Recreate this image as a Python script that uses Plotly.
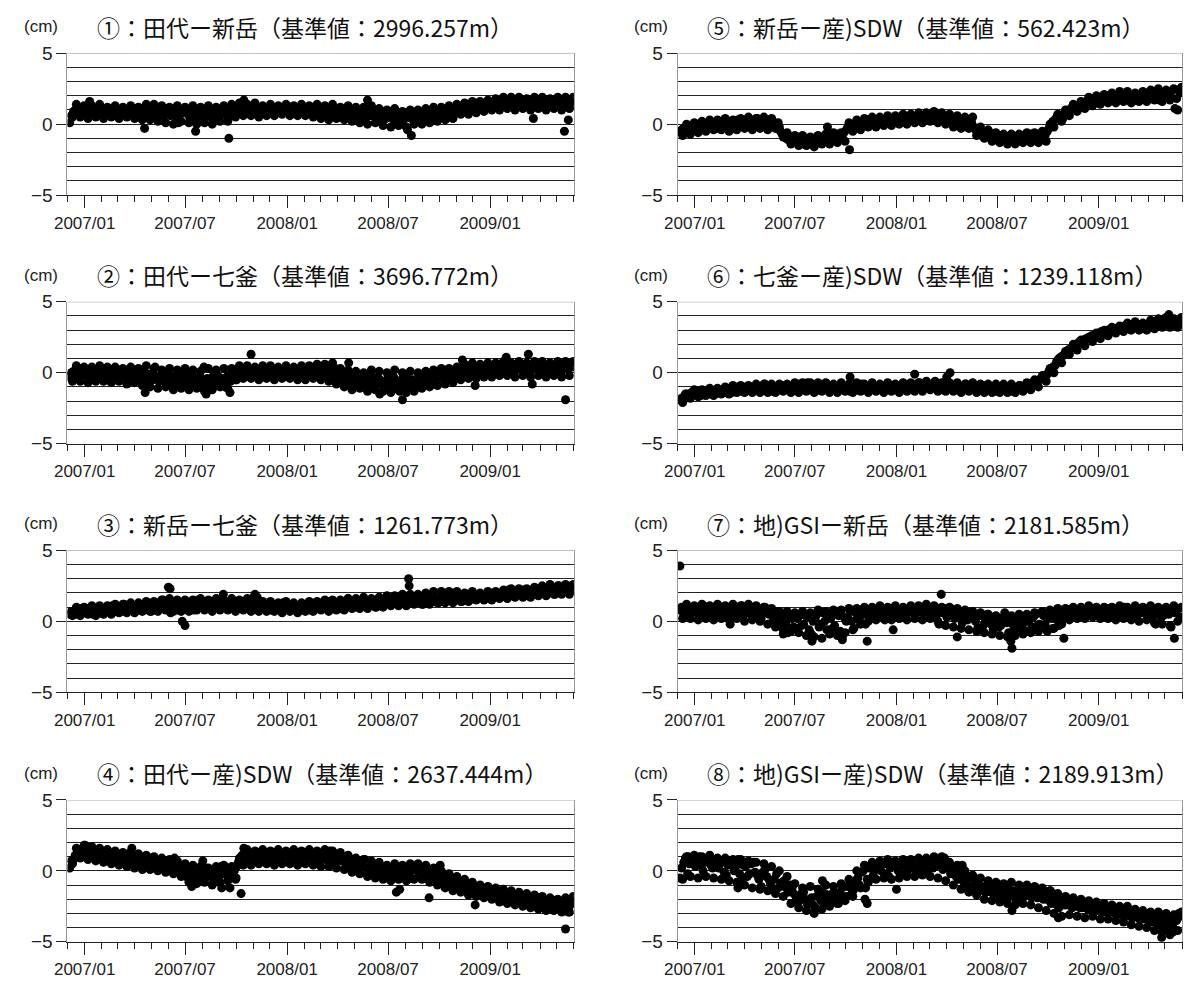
import pandas as pd
import plotly.graph_objects as go

# ---------------- data (cm) ----------------
# three readings per week: "a" on the weekly dates, "b" three days later, "c" five days later
week_start = "2006-12-05"
n_weeks = 130

titles = [
    "①：田代ー新岳（基準値：2996.257m）",
    "②：田代ー七釜（基準値：3696.772m）",
    "③：新岳ー七釜（基準値：1261.773m）",
    "④：田代ー産)SDW（基準値：2637.444m）",
    "⑤：新岳ー産)SDW（基準値：562.423m）",
    "⑥：七釜ー産)SDW（基準値：1239.118m）",
    "⑦：地)GSIー新岳（基準値：2181.585m）",
    "⑧：地)GSIー産)SDW（基準値：2189.913m）",
]

p1_a = [
    0.1, 0.9, 1.1, 0.7, 1.2, 0.8, 0.9, 1.0, 0.7, 0.9,
    1.0, 0.8, 0.9, 0.7, 1.1, 0.9, 0.8, 1.0, 0.6, 0.9,
    1.2, 0.5, 1.0, 0.8, 0.3, 1.1, 0.6, 0.9, 0.1, 0.8,
    1.1, 0.4, 0.9, 0.2, 1.0, 0.6, 0.8, 0.3, 1.1, 0.7,
    0.9, 0.5, 1.2, 0.8, 1.1, 1.3, 0.9, 1.0, 1.1, 0.8,
    1.0, 0.9, 1.1, 0.8, 1.0, 1.1, 0.9, 1.2, 1.0, 0.9,
    1.0, 0.9, 1.1, 1.0, 0.8, 1.1, 0.9, 0.5, 1.0, 0.7,
    1.1, 0.6, 0.9, 0.7, 0.5, 0.8, 0.3, 0.9, 0.6, 0.8,
    0.2, 0.9, 0.5, 0.7, 0.1, 0.6, 0.3, 0.8, 0.4, 0.1,
    0.7, 0.3, 0.9, 0.5, 1.0, 0.6, 0.9, 0.4, 1.1, 0.8,
    1.2, 0.8, 1.1, 1.3, 1.0, 1.2, 1.4, 1.1, 1.3, 1.5,
    1.3, 1.6, 1.4, 1.7, 1.3, 1.5, 1.6, 1.2, 1.5, 1.7,
    1.4, 1.6, 1.3, 1.5, 1.7, 1.4, 1.6, 1.3, 1.5, 1.6,
]
p1_b = [
    0.6, 1.0, 0.9, 1.0, 0.9, 1.1, 0.8, 0.9, 1.0, 0.8,
    0.9, 1.0, 0.8, 1.0, 0.8, 1.0, 1.1, 0.8, 1.0, 0.7,
    0.8, 0.9, 0.6, 1.1, 0.7, 0.8, 1.0, 0.5, 0.7, 1.0,
    0.7, 0.9, 0.5, 0.8, 0.4, 1.0, 0.5, 0.9, 0.6, 1.0,
    0.6, 1.0, 0.9, 1.0, 1.4, 1.0, 1.1, 0.9, 1.0, 1.1,
    0.8, 1.1, 0.9, 1.1, 0.9, 1.0, 1.1, 0.9, 1.1, 1.0,
    0.8, 1.1, 0.9, 0.8, 1.1, 0.8, 0.7, 1.0, 0.8, 1.0,
    0.8, 1.0, 0.6, 1.0, 0.9, 0.5, 0.8, 0.6, 1.0, 0.5,
    0.7, 0.4, 0.9, 0.3, 0.8, 0.2, 0.7, 0.5, 0.8, 0.6,
    0.5, 0.8, 0.6, 0.9, 0.7, 1.0, 0.7, 1.0, 0.8, 1.0,
    0.9, 1.2, 1.0, 1.2, 1.3, 1.1, 1.2, 1.4, 1.2, 1.3,
    1.5, 1.4, 1.6, 1.4, 1.6, 1.7, 1.4, 1.6, 1.4, 1.5,
    1.6, 1.4, 1.6, 1.5, 1.4, 1.6, 1.5, 1.7, 1.5, 1.4,
]
p1_c = [
    0.5, 1.4, 0.5, 1.3, 0.4, 1.3, 0.5, 1.4, 0.4, 1.2,
    0.5, 1.3, 0.4, 1.2, 0.5, 1.3, 0.4, 1.2, 0.3, 1.4,
    0.3, 1.4, 0.2, 1.3, 0.1, 1.2, 0.0, 1.3, 0.2, 1.2,
    0.1, 1.3, 0.0, 1.2, 0.1, 1.3, 0.0, 1.2, 0.2, 1.3,
    0.2, 1.4, 0.5, 1.5, 0.6, 1.4, 0.6, 1.5, 0.5, 1.3,
    0.6, 1.4, 0.6, 1.3, 0.7, 1.4, 0.6, 1.3, 0.6, 1.4,
    0.6, 1.3, 0.5, 1.4, 0.4, 1.3, 0.3, 1.4, 0.4, 1.2,
    0.3, 1.3, 0.2, 1.2, 0.1, 1.2, 0.0, 1.3, 0.1, 1.1,
    -0.1, 1.0, -0.2, 1.1, -0.1, 0.9, -0.2, 1.0, 0.0, 1.0,
    0.0, 1.1, 0.1, 1.2, 0.2, 1.2, 0.3, 1.3, 0.4, 1.4,
    0.7, 1.5, 0.7, 1.6, 0.8, 1.6, 0.9, 1.7, 1.0, 1.8,
    1.0, 1.9, 1.1, 1.9, 1.0, 1.9, 1.1, 1.8, 1.0, 1.9,
    1.1, 1.9, 1.0, 1.8, 1.1, 1.9, 1.0, 1.9, 1.1, 1.9,
]
p1_out_dates = ["2007-01-10", "2007-04-19", "2007-07-20", "2007-09-18", "2007-10-15",
                "2008-05-25", "2008-08-05", "2008-08-12", "2009-03-20", "2009-05-15", "2009-05-22"]
p1_out_values = [1.6, -0.3, -0.5, -1.0, 1.7, 1.7, -0.4, -0.8, 0.4, -0.5, 0.3]

p2_a = [
    -0.3, 0.1, -0.4, 0.3, -0.2, 0.0, -0.3, 0.2, -0.1, -0.4,
    0.1, -0.2, 0.2, -0.3, 0.0, -0.5, 0.1, -0.3, -0.6, 0.2,
    -0.7, -0.2, 0.4, -0.6, -0.1, -0.8, -0.3, -0.5, -0.9, -0.2,
    -0.6, -1.0, -0.3, -0.8, -0.4, -1.1, -0.5, -0.2, -0.9, -0.4,
    -1.0, -0.2, 0.1, -0.5, 0.3, 0.0, 0.2, -0.1, 0.3, 0.1,
    0.2, -0.1, 0.3, 0.0, 0.1, -0.2, 0.2, 0.0, 0.3, -0.1,
    0.1, 0.3, -0.2, 0.2, 0.0, 0.4, -0.1, 0.5, -0.3, 0.2,
    -0.5, 0.0, -0.7, -0.3, -0.9, -0.4, -0.6, -1.1, -0.3, -0.8,
    -0.5, -1.2, -0.4, -0.9, -0.6, -1.3, -0.7, -0.4, -1.0, -0.6,
    -0.8, -0.3, -0.7, -0.2, -0.5, 0.0, -0.4, -0.1, -0.3, 0.1,
    -0.2, 0.2, 0.0, 0.3, -0.1, 0.4, 0.1, 0.3, 0.0, 0.4,
    0.2, 0.5, 0.1, 0.4, 0.6, 0.2, 0.3, 0.0, 0.5, 0.2,
    0.4, 0.1, 0.6, 0.2, 0.3, -0.1, 0.5, 0.2, 0.6, 0.7,
]
p2_b = [
    0.0, -0.2, 0.1, -0.1, 0.2, -0.3, 0.0, -0.2, 0.1, 0.0,
    -0.3, 0.1, -0.4, 0.0, -0.3, 0.1, -0.4, 0.0, -0.2, -0.5,
    -0.1, -0.5, -0.3, -0.2, -0.6, -0.1, -0.7, -0.2, -0.4, -0.7,
    -0.2, -0.5, -0.7, -0.3, -0.9, -0.4, -0.8, -0.6, -0.3, -0.7,
    -0.3, -0.6, -0.2, 0.2, -0.1, 0.3, -0.1, 0.2, 0.0, -0.1,
    0.0, 0.2, -0.1, 0.2, -0.1, 0.1, 0.0, 0.2, -0.1, 0.2,
    -0.1, 0.1, 0.2, -0.1, 0.3, 0.0, 0.2, 0.1, 0.3, -0.3,
    -0.2, -0.4, -0.2, -0.6, -0.5, -0.8, -0.2, -0.5, -0.7, -0.4,
    -0.8, -0.6, -0.9, -0.3, -1.0, -0.5, -0.9, -0.8, -0.5, -0.9,
    -0.5, -0.6, -0.4, -0.6, -0.2, -0.3, -0.1, -0.4, 0.0, -0.2,
    0.1, -0.1, 0.2, 0.0, 0.3, 0.1, 0.2, 0.4, 0.2, 0.1,
    0.4, 0.2, 0.3, 0.0, 0.4, 0.3, 0.6, 0.4, 0.1, 0.5,
    0.2, 0.4, 0.0, 0.5, 0.1, 0.4, 0.0, 0.5, 0.3, 0.4,
]
p2_c = [
    -0.6, 0.5, -0.6, 0.4, -0.7, 0.4, -0.6, 0.5, -0.6, 0.4,
    -0.7, 0.4, -0.6, 0.3, -0.8, 0.4, -0.7, 0.3, -0.9, 0.5,
    -1.0, 0.3, -1.1, 0.2, -1.0, 0.3, -1.2, 0.2, -1.1, 0.3,
    -1.2, 0.2, -1.1, 0.1, -1.3, 0.3, -1.2, 0.2, -1.0, 0.3,
    -1.1, 0.3, -0.5, 0.5, -0.4, 0.5, -0.4, 0.4, -0.5, 0.5,
    -0.4, 0.5, -0.5, 0.4, -0.4, 0.5, -0.4, 0.4, -0.5, 0.5,
    -0.5, 0.5, -0.4, 0.6, -0.5, 0.6, -0.6, 0.7, -0.8, 0.3,
    -1.0, 0.2, -1.2, 0.1, -1.1, 0.0, -1.3, 0.2, -1.2, 0.1,
    -1.3, 0.0, -1.4, 0.2, -1.2, 0.0, -1.4, 0.1, -1.3, 0.0,
    -1.1, 0.1, -1.0, 0.2, -0.9, 0.3, -0.8, 0.3, -0.7, 0.4,
    -0.5, 0.6, -0.4, 0.7, -0.4, 0.6, -0.3, 0.7, -0.3, 0.7,
    -0.2, 0.8, -0.2, 0.7, -0.3, 0.8, -0.2, 0.7, -0.3, 0.8,
    -0.2, 0.8, -0.3, 0.7, -0.2, 0.8, -0.3, 0.8, -0.2, 0.8,
]
p2_out_dates = ["2007-04-20", "2007-08-04", "2007-08-08", "2007-09-20", "2007-10-28",
                "2008-04-21", "2008-06-16", "2008-07-27", "2008-11-12", "2008-12-05",
                "2009-01-30", "2009-03-11", "2009-03-18", "2009-05-17"]
p2_out_values = [-1.4, 0.4, -1.5, -1.4, 1.3, 0.7, -1.5, -1.9, 0.9, -0.9, 1.1, 1.3, -0.8, -1.9]

p3_a = [
    0.5, 0.7, 0.6, 0.9, 0.6, 0.8, 0.5, 0.9, 0.7, 0.6,
    0.8, 1.1, 0.7, 0.9, 1.2, 0.8, 1.0, 0.7, 1.2, 0.9,
    1.0, 0.7, 1.3, 0.9, 1.5, 1.1, 0.6, 1.2, 0.8, 1.3,
    0.9, 1.2, 0.8, 1.5, 1.0, 1.3, 0.9, 1.4, 1.1, 0.9,
    1.3, 1.0, 1.5, 1.2, 0.9, 1.4, 1.1, 1.6, 1.0, 1.2,
    0.9, 1.1, 0.8, 1.2, 1.0, 1.3, 0.9, 1.1, 0.8, 1.0,
    0.9, 1.2, 0.8, 1.0, 1.3, 0.9, 1.1, 1.4, 1.0, 1.2,
    0.9, 1.3, 1.1, 1.4, 1.0, 1.2, 1.5, 1.1, 1.3, 1.0,
    1.4, 1.2, 1.6, 1.3, 1.5, 1.2, 1.7, 1.4, 1.6, 1.3,
    1.5, 1.2, 1.8, 1.4, 1.6, 1.3, 1.9, 1.5, 2.0, 1.6,
    1.8, 1.4, 1.7, 1.5, 1.9, 1.6, 1.7, 1.8, 1.6, 1.8,
    1.9, 1.7, 2.0, 2.2, 1.8, 2.1, 1.9, 2.2, 1.8, 2.0,
    2.1, 1.9, 2.3, 2.0, 2.2, 1.9, 2.5, 2.1, 2.3, 2.4,
]
p3_b = [
    0.7, 0.5, 0.8, 0.6, 0.9, 0.6, 0.8, 0.6, 0.9, 0.8,
    0.9, 0.8, 1.0, 0.7, 0.9, 1.1, 0.8, 1.0, 0.9, 1.1,
    0.8, 1.1, 0.9, 1.2, 1.0, 1.3, 0.9, 1.0, 1.1, 0.9,
    1.1, 0.9, 1.2, 1.0, 1.2, 1.1, 1.2, 1.0, 1.3, 1.1,
    1.1, 1.3, 1.1, 1.4, 1.2, 1.1, 1.3, 1.2, 1.3, 0.9,
    1.1, 0.9, 1.0, 0.9, 1.1, 1.0, 1.1, 0.9, 1.0, 0.8,
    1.1, 0.9, 1.1, 1.2, 0.9, 1.2, 0.9, 1.1, 1.2, 1.0,
    1.2, 1.0, 1.2, 1.1, 1.3, 1.1, 1.2, 1.3, 1.1, 1.4,
    1.2, 1.5, 1.3, 1.5, 1.3, 1.6, 1.3, 1.5, 1.4, 1.7,
    1.4, 1.6, 1.5, 1.7, 1.5, 1.7, 1.6, 1.8, 1.5, 1.9,
    1.6, 1.8, 1.6, 1.8, 1.7, 1.8, 1.6, 1.7, 1.9, 1.7,
    1.8, 2.0, 1.8, 1.9, 2.1, 1.9, 2.1, 1.9, 2.1, 2.2,
    2.0, 2.2, 2.0, 2.3, 2.1, 2.3, 2.2, 2.4, 2.1, 2.2,
]
p3_c = [
    0.4, 1.0, 0.4, 1.0, 0.5, 1.1, 0.4, 1.1, 0.5, 1.1,
    0.5, 1.2, 0.6, 1.2, 0.6, 1.3, 0.6, 1.3, 0.7, 1.4,
    0.7, 1.4, 0.7, 1.5, 0.8, 1.6, 0.7, 1.5, 0.7, 1.5,
    0.7, 1.5, 0.8, 1.6, 0.8, 1.5, 0.7, 1.6, 0.8, 1.5,
    0.8, 1.6, 0.7, 1.5, 0.8, 1.6, 0.7, 1.5, 0.7, 1.4,
    0.7, 1.4, 0.7, 1.3, 0.6, 1.4, 0.7, 1.3, 0.6, 1.3,
    0.7, 1.4, 0.7, 1.4, 0.8, 1.5, 0.7, 1.5, 0.8, 1.5,
    0.8, 1.6, 0.9, 1.6, 0.9, 1.7, 0.9, 1.6, 1.0, 1.7,
    1.0, 1.8, 1.1, 1.8, 1.1, 1.9, 1.1, 1.9, 1.2, 1.9,
    1.2, 2.0, 1.2, 2.1, 1.3, 2.1, 1.3, 2.1, 1.3, 2.1,
    1.4, 2.0, 1.4, 2.1, 1.5, 2.0, 1.5, 2.1, 1.5, 2.1,
    1.6, 2.2, 1.6, 2.3, 1.7, 2.3, 1.7, 2.3, 1.7, 2.4,
    1.8, 2.5, 1.8, 2.6, 1.9, 2.5, 1.9, 2.6, 1.9, 2.6,
]
p3_out_dates = ["2007-06-01", "2007-06-04", "2007-06-26", "2007-07-01", "2007-09-08",
                "2007-11-04", "2007-11-08", "2008-04-20", "2008-08-07", "2008-08-08"]
p3_out_values = [2.4, 2.3, 0.0, -0.3, 1.9, 1.9, 1.7, 1.6, 3.0, 2.5]

p4_a = [
    0.2, 0.8, 1.3, 1.0, 1.6, 1.2, 1.5, 0.9, 1.3, 1.0,
    1.2, 0.7, 1.0, 0.9, 0.5, 1.1, 0.6, 0.9, 0.3, 0.8,
    0.5, 0.9, 0.2, 0.7, 0.4, 0.0, 0.6, 0.2, 0.4, -0.1,
    -0.4, 0.1, -0.7, -0.2, -0.5, 0.2, -0.3, -0.8, -0.1, 0.3,
    -0.2, 0.2, -0.4, 0.3, 0.9, 1.2, 0.7, 1.1, 0.8, 1.3,
    0.9, 1.1, 0.7, 1.2, 0.9, 1.0, 1.3, 0.8, 1.1, 0.6,
    1.0, 1.3, 0.9, 1.1, 0.6, 1.2, 0.8, 1.4, 0.5, 1.0,
    0.7, 0.2, 0.9, 0.0, 0.5, 0.3, 0.8, -0.1, 0.4, 0.1,
    -0.3, 0.2, -0.5, 0.0, -0.4, 0.1, -0.2, -0.6, 0.0, 0.3,
    -0.1, 0.2, -0.4, 0.0, -0.6, -0.3, -0.8, -0.5, -1.0, -0.7,
    -1.1, -0.9, -1.4, -1.2, -1.5, -1.3, -1.6, -1.4, -1.7, -1.5,
    -1.6, -1.9, -1.7, -2.0, -1.6, -2.1, -1.8, -2.2, -1.9, -2.1,
    -2.3, -1.9, -2.5, -2.2, -2.0, -2.6, -2.3, -2.8, -2.1, -2.4,
]
p4_b = [
    0.7, 1.1, 1.5, 1.3, 1.2, 1.4, 1.1, 1.3, 1.0, 1.2,
    0.9, 1.1, 0.8, 1.2, 0.8, 0.9, 0.8, 0.6, 0.9, 0.5,
    0.7, 0.6, 0.5, 0.4, 0.6, 0.4, 0.3, 0.6, 0.1, 0.3,
    -0.1, -0.3, -0.1, -0.4, 0.0, -0.4, -0.1, -0.3, -0.5, 0.0,
    0.1, -0.2, 0.0, 0.6, 1.1, 0.8, 1.2, 0.9, 1.2, 1.0,
    1.2, 0.8, 1.1, 0.9, 1.2, 1.1, 0.9, 1.2, 0.9, 1.2,
    1.1, 0.9, 1.2, 0.8, 1.0, 0.9, 1.2, 0.8, 1.1, 0.8,
    0.9, 0.5, 0.4, 0.6, 0.2, 0.6, 0.2, 0.3, 0.0, 0.2,
    0.0, -0.2, 0.1, -0.3, -0.1, -0.4, 0.1, -0.3, 0.2, 0.0,
    -0.2, -0.3, -0.1, -0.5, -0.2, -0.6, -0.4, -0.9, -0.6, -0.9,
    -0.8, -1.2, -1.0, -1.3, -1.2, -1.5, -1.3, -1.6, -1.4, -1.7,
    -1.8, -1.6, -1.9, -1.7, -1.9, -1.8, -2.0, -1.9, -2.1, -2.0,
    -2.0, -2.3, -2.1, -2.4, -2.3, -2.1, -2.5, -2.2, -2.6, -2.2,
]
p4_c = [
    0.5, 1.6, 0.9, 1.8, 0.8, 1.7, 0.7, 1.6, 0.6, 1.5,
    0.5, 1.4, 0.4, 1.3, 0.3, 1.3, 0.2, 1.2, 0.1, 1.1,
    0.1, 1.0, 0.0, 0.9, -0.1, 0.8, -0.2, 0.7, -0.4, 0.5,
    -0.8, 0.4, -0.9, 0.3, -0.8, 0.2, -1.0, 0.3, -0.8, 0.4,
    -0.7, 0.3, -0.6, 0.9, 0.4, 1.5, 0.4, 1.4, 0.5, 1.5,
    0.5, 1.4, 0.4, 1.5, 0.5, 1.4, 0.5, 1.5, 0.4, 1.4,
    0.5, 1.5, 0.4, 1.4, 0.3, 1.5, 0.3, 1.4, 0.2, 1.3,
    0.1, 1.1, -0.1, 0.9, -0.2, 0.8, -0.4, 0.7, -0.5, 0.6,
    -0.6, 0.4, -0.7, 0.5, -0.6, 0.4, -0.7, 0.5, -0.6, 0.5,
    -0.6, 0.4, -0.8, 0.2, -1.0, 0.0, -1.2, -0.2, -1.4, -0.4,
    -1.5, -0.6, -1.7, -0.8, -1.8, -1.0, -1.9, -1.1, -2.0, -1.2,
    -2.2, -1.3, -2.3, -1.4, -2.4, -1.5, -2.5, -1.6, -2.6, -1.7,
    -2.7, -1.8, -2.8, -1.9, -2.8, -2.0, -2.9, -1.9, -2.9, -1.8,
]
p4_out_dates = ["2007-01-02", "2007-03-27", "2007-06-12", "2007-07-13", "2007-08-02",
                "2007-09-05", "2007-09-20", "2007-10-01", "2007-10-10", "2007-10-15",
                "2008-07-16", "2008-07-22", "2008-09-13", "2008-10-03", "2008-12-05",
                "2009-05-17", "2009-05-22"]
p4_out_values = [1.8, 1.6, 0.9, -1.1, 0.7, -1.2, -1.2, -0.5, -1.6, 1.6,
                 -1.5, -1.3, -1.9, 0.4, -2.4, -4.1, -2.9]

p5_a = [
    -0.5, -0.3, -0.6, -0.2, -0.1, -0.3, 0.0, -0.2, 0.1, -0.1,
    -0.3, 0.2, -0.1, 0.1, -0.3, 0.3, 0.0, -0.2, 0.2, 0.0,
    0.4, -0.1, 0.3, 0.0, 0.2, -0.3, -0.5, -0.8, -1.1, -0.9,
    -1.2, -1.0, -1.4, -1.1, -1.3, -1.0, -1.2, -0.9, -1.1, -0.8,
    -1.0, -0.7, -0.9, -0.4, -0.1, -0.3, 0.1, -0.1, 0.2, 0.0,
    0.2, 0.0, 0.3, 0.1, 0.4, 0.2, 0.3, 0.1, 0.4, 0.2,
    0.5, 0.3, 0.6, 0.4, 0.7, 0.3, 0.5, 0.2, 0.6, 0.3,
    0.1, 0.4, -0.1, 0.2, 0.0, 0.3, -0.2, -0.5, -0.8, -0.6,
    -0.9, -0.7, -1.0, -0.8, -1.1, -0.9, -1.2, -1.0, -1.1, -0.8,
    -1.0, -0.7, -1.1, -0.8, -0.9, -0.5, 0.0, 0.3, 0.6, 0.4,
    0.9, 1.0, 1.3, 1.1, 1.4, 1.6, 1.5, 1.8, 1.7, 1.9,
    1.7, 2.0, 1.8, 1.9, 2.1, 1.7, 2.0, 1.6, 2.1, 1.9,
    2.2, 1.8, 2.0, 2.3, 1.7, 2.1, 2.3, 1.9, 1.1, 2.4,
]
p5_b = [
    -0.4, -0.5, -0.3, -0.4, -0.2, -0.1, -0.3, 0.0, -0.2, 0.1,
    0.0, -0.1, 0.2, -0.2, 0.1, -0.1, 0.2, 0.1, -0.1, 0.2,
    0.1, 0.2, -0.1, 0.3, 0.0, 0.1, -0.7, -1.0, -0.9, -1.2,
    -1.0, -1.3, -1.1, -1.2, -1.0, -1.3, -1.0, -1.2, -1.0, -1.1,
    -0.8, -1.0, -0.6, -0.2, -0.3, 0.0, -0.2, 0.2, -0.1, 0.2,
    0.0, 0.2, 0.1, 0.3, 0.1, 0.3, 0.2, 0.3, 0.2, 0.4,
    0.3, 0.5, 0.4, 0.5, 0.4, 0.6, 0.3, 0.5, 0.3, 0.5,
    0.2, 0.1, 0.3, 0.0, 0.2, 0.1, -0.4, -0.7, -0.6, -0.8,
    -0.8, -1.0, -0.8, -1.1, -0.9, -1.1, -1.0, -1.2, -0.9, -1.0,
    -0.9, -1.0, -0.9, -1.1, -0.8, -0.3, 0.2, 0.5, 0.5, 0.8,
    1.0, 1.2, 1.1, 1.4, 1.5, 1.4, 1.7, 1.6, 1.8, 1.8,
    1.9, 1.8, 2.0, 2.1, 1.9, 2.1, 1.8, 2.0, 1.8, 2.1,
    1.9, 2.1, 2.2, 1.9, 2.2, 2.0, 2.1, 2.4, 1.8, 2.2,
]
p5_c = [
    -0.8, 0.0, -0.7, 0.1, -0.6, 0.2, -0.5, 0.3, -0.4, 0.3,
    -0.4, 0.4, -0.5, 0.3, -0.4, 0.4, -0.3, 0.5, -0.4, 0.4,
    -0.3, 0.5, -0.4, 0.4, -0.3, -0.2, -0.9, -0.6, -1.4, -0.8,
    -1.5, -0.8, -1.5, -0.9, -1.6, -0.8, -1.4, -0.7, -1.4, -0.6,
    -1.3, -0.6, -1.2, 0.1, -0.5, 0.3, -0.4, 0.4, -0.2, 0.5,
    -0.2, 0.5, -0.1, 0.6, -0.1, 0.6, 0.0, 0.7, 0.0, 0.7,
    0.1, 0.8, 0.1, 0.8, 0.2, 0.9, 0.1, 0.8, 0.0, 0.7,
    -0.2, 0.6, -0.3, 0.5, -0.3, 0.5, -0.8, -0.2, -1.0, -0.4,
    -1.2, -0.6, -1.3, -0.7, -1.4, -0.7, -1.4, -0.7, -1.3, -0.6,
    -1.3, -0.6, -1.3, -0.5, -1.2, 0.0, -0.2, 0.7, 0.2, 1.0,
    0.6, 1.4, 0.9, 1.6, 1.1, 1.9, 1.3, 2.0, 1.4, 2.1,
    1.5, 2.2, 1.5, 2.3, 1.6, 2.3, 1.5, 2.2, 1.6, 2.3,
    1.6, 2.4, 1.7, 2.5, 1.6, 2.4, 1.7, 2.5, 1.0, 2.6,
]
p5_out_dates = ["2007-08-29", "2007-10-08"]
p5_out_values = [-0.2, -1.8]

p6_a = [
    -1.9, -1.7, -1.6, -1.4, -1.5, -1.3, -1.5, -1.4, -1.3, -1.5,
    -1.3, -1.2, -1.4, -1.1, -1.3, -1.2, -1.0, -1.3, -1.1, -1.2,
    -1.0, -1.2, -0.8, -1.1, -1.3, -1.0, -1.2, -0.9, -1.1, -1.3,
    -1.0, -0.8, -1.2, -0.7, -1.1, -1.3, -0.9, -1.1, -0.8, -1.2,
    -1.0, -1.2, -0.9, -1.1, -1.3, -1.0, -1.2, -0.8, -1.1, -1.2,
    -1.0, -1.2, -0.9, -1.1, -0.8, -1.2, -1.0, -1.1, -0.9, -1.2,
    -0.9, -1.1, -0.7, -1.0, -0.8, -1.1, -0.6, -0.9, -1.2, -0.8,
    -1.0, -1.2, -0.9, -1.1, -0.8, -1.2, -1.0, -1.3, -1.1, -0.9,
    -1.2, -1.0, -1.3, -1.1, -1.2, -1.0, -1.3, -1.1, -0.9, -1.2,
    -0.9, -0.7, -0.8, -0.5, -0.3, -0.1, 0.3, 0.5, 1.0, 1.2,
    1.5, 1.7, 1.9, 2.1, 2.2, 2.4, 2.5, 2.6, 2.7, 2.9,
    2.8, 3.0, 3.1, 3.0, 3.2, 3.3, 3.1, 3.4, 3.2, 3.3,
    3.1, 3.4, 3.3, 3.6, 3.4, 3.7, 3.5, 3.3, 3.6, 3.5,
]
p6_b = [
    -1.8, -1.5, -1.7, -1.5, -1.4, -1.6, -1.3, -1.5, -1.4, -1.3,
    -1.4, -1.3, -1.2, -1.4, -1.2, -1.3, -1.2, -1.1, -1.3, -1.0,
    -1.2, -1.0, -1.2, -1.0, -1.1, -1.2, -1.0, -1.2, -1.0, -1.1,
    -1.2, -1.0, -1.0, -1.2, -0.9, -1.1, -1.0, -1.2, -1.0, -1.0,
    -1.2, -1.0, -1.1, -1.0, -1.1, -1.2, -1.0, -1.0, -1.2, -1.0,
    -1.1, -1.0, -1.1, -0.9, -1.0, -1.0, -1.2, -0.9, -1.1, -1.0,
    -1.0, -0.9, -0.9, -1.1, -1.0, -0.9, -0.8, -1.1, -1.0, -1.0,
    -1.1, -1.0, -1.1, -1.0, -1.1, -1.0, -1.2, -1.1, -1.0, -1.1,
    -1.0, -1.2, -1.1, -1.2, -1.1, -1.2, -1.1, -1.0, -1.1, -1.0,
    -1.0, -0.8, -0.7, -0.4, -0.2, 0.1, 0.4, 0.8, 1.1, 1.3,
    1.6, 1.8, 2.0, 2.2, 2.3, 2.4, 2.6, 2.7, 2.8, 2.8,
    3.0, 3.1, 2.9, 3.2, 3.1, 3.2, 3.3, 3.2, 3.4, 3.2,
    3.3, 3.2, 3.5, 3.4, 3.6, 3.4, 3.7, 3.6, 3.4, 3.7,
]
p6_c = [
    -2.1, -1.5, -1.8, -1.2, -1.7, -1.2, -1.6, -1.1, -1.6, -1.1,
    -1.5, -1.0, -1.5, -0.9, -1.4, -0.9, -1.4, -0.9, -1.4, -0.8,
    -1.4, -0.8, -1.4, -0.8, -1.4, -0.8, -1.3, -0.8, -1.4, -0.7,
    -1.4, -0.7, -1.3, -0.7, -1.4, -0.7, -1.3, -0.7, -1.4, -0.8,
    -1.4, -0.7, -1.3, -0.8, -1.4, -0.7, -1.3, -0.8, -1.4, -0.7,
    -1.3, -0.8, -1.4, -0.7, -1.3, -0.8, -1.4, -0.7, -1.3, -0.7,
    -1.3, -0.7, -1.3, -0.6, -1.2, -0.7, -1.3, -0.7, -1.3, -0.7,
    -1.3, -0.7, -1.4, -0.8, -1.3, -0.7, -1.4, -0.8, -1.4, -0.8,
    -1.4, -0.8, -1.4, -0.8, -1.4, -0.8, -1.4, -0.9, -1.3, -0.7,
    -1.2, -0.5, -1.0, -0.2, -0.6, 0.3, 0.0, 0.9, 0.7, 1.5,
    1.3, 2.0, 1.6, 2.3, 1.9, 2.5, 2.2, 2.8, 2.4, 3.0,
    2.6, 3.2, 2.8, 3.3, 2.9, 3.5, 3.0, 3.6, 3.0, 3.5,
    3.0, 3.7, 3.1, 3.8, 3.2, 3.9, 3.2, 3.8, 3.2, 3.9,
]
p6_out_dates = ["2007-10-09", "2008-02-03", "2008-04-01", "2008-04-07", "2009-05-08"]
p6_out_values = [-0.3, -0.1, -0.3, 0.0, 4.1]

p7_a = [
    0.8, 0.5, 1.0, 0.6, 0.9, 0.3, 1.1, 0.7, 0.4, 0.9,
    0.6, 1.0, 0.7, -0.2, 0.8, 0.5, 1.1, 0.6, 0.9, 0.3,
    0.8, 0.2, 1.0, 0.5, 0.0, 0.7, -0.1, 0.4, -0.8, 0.2,
    -0.5, 0.5, -0.2, 0.3, -0.9, 0.1, -0.4, 0.6, -0.6, 0.2,
    -0.3, 0.4, -1.1, 0.0, 0.7, -0.5, 0.3, 0.8, -0.2, 0.5,
    0.9, 0.3, 0.7, 0.1, 0.9, 0.5, 0.8, 0.4, 0.9, 0.6,
    0.8, 0.5, 1.0, 0.6, 0.9, 0.4, 1.0, -0.2, 0.7, 0.3,
    0.9, 0.2, 0.6, -0.1, 0.7, 0.3, 0.5, -0.5, 0.4, 0.0,
    0.3, -0.6, 0.1, -0.3, 0.6, -0.8, -0.2, 0.2, -0.5, -0.1,
    0.3, -0.4, 0.5, -0.2, 0.4, -0.7, 0.2, 0.6, -0.3, 0.4,
    0.8, 0.3, 0.7, 0.5, 0.9, 0.4, 0.7, 0.6, 0.9, 0.5,
    0.7, 0.9, 0.4, 0.8, 0.6, 1.0, 0.5, 0.8, 0.3, 0.9,
    0.6, 0.2, 0.9, -0.2, 0.7, 0.4, 0.8, -0.4, 0.6, 0.9,
]
p7_b = [
    1.0, 0.7, 0.8, 1.0, 0.6, 0.9, 0.5, 1.0, 0.8, 0.6,
    0.9, 0.4, 0.9, 0.6, 1.0, 0.7, 0.4, 0.9, 0.5, 1.0,
    0.4, 0.9, 0.6, 0.8, 0.5, 0.3, 0.5, -0.2, 0.3, -0.4,
    0.2, -0.3, 0.4, -0.6, 0.0, 0.5, -0.2, 0.0, 0.4, -0.5,
    0.5, -0.7, 0.3, 0.2, 0.0, 0.6, 0.1, 0.5, 0.7, 0.2,
    0.6, 0.8, 0.4, 0.8, 0.6, 0.9, 0.5, 0.7, 0.6, 0.9,
    0.6, 0.9, 0.7, 0.9, 0.6, 0.8, 0.5, 0.6, 0.9, 0.7,
    0.4, 0.7, 0.3, 0.5, 0.1, 0.6, 0.0, 0.4, -0.3, 0.5,
    -0.2, 0.3, -0.4, 0.2, -0.1, 0.1, -0.6, -0.3, 0.3, -0.7,
    0.1, 0.3, -0.3, 0.6, -0.2, 0.3, -0.5, 0.1, 0.6, 0.2,
    0.5, 0.9, 0.4, 0.8, 0.6, 0.8, 0.4, 0.9, 0.6, 0.8,
    0.5, 0.6, 0.9, 0.5, 0.9, 0.6, 0.8, 0.4, 0.9, 0.6,
    0.9, 0.7, 0.4, 0.8, 0.3, 0.9, 0.5, 0.7, 0.9, 0.3,
]
p7_c = [
    0.2, 1.2, 0.2, 1.1, 0.1, 1.2, 0.2, 1.1, 0.1, 1.2,
    0.2, 1.1, 0.1, 1.2, 0.2, 1.1, 0.0, 1.2, 0.1, 1.1,
    0.0, 1.0, -0.2, 0.9, -0.4, 0.7, -0.6, 0.7, -0.7, 0.6,
    -0.8, 0.7, -1.0, 0.6, -1.1, 0.8, -1.2, 0.7, -0.9, 0.8,
    -1.0, 0.8, -0.8, 0.9, -0.6, 0.9, -0.2, 1.0, 0.0, 1.0,
    0.1, 1.1, 0.2, 1.0, 0.1, 1.1, 0.2, 1.0, 0.1, 1.1,
    0.2, 1.1, 0.1, 1.2, 0.2, 1.1, 0.0, 1.0, -0.3, 1.0,
    -0.4, 0.9, -0.5, 0.8, -0.6, 0.7, -0.7, 0.6, -0.8, 0.5,
    -0.9, 0.4, -1.0, 0.3, -1.1, 0.4, -1.0, 0.5, -0.9, 0.5,
    -0.8, 0.6, -0.7, 0.7, -0.6, 0.8, -0.5, 0.9, -0.2, 0.9,
    0.1, 1.0, 0.2, 1.0, 0.2, 1.1, 0.3, 1.0, 0.2, 1.0,
    0.2, 1.0, 0.1, 1.1, 0.2, 1.0, 0.1, 1.1, 0.0, 1.0,
    0.1, 1.1, -0.1, 1.0, -0.2, 1.0, -0.3, 1.1, 0.0, 1.0,
]
p7_out_dates = ["2006-12-05", "2007-06-10", "2007-08-01", "2007-09-25", "2007-11-09",
                "2007-12-26", "2008-03-22", "2008-04-20", "2008-07-24", "2008-07-26",
                "2008-07-28", "2008-10-30", "2009-05-18"]
p7_out_values = [3.9, -0.9, -1.4, -1.3, -1.4, -0.6, 1.9, -1.1, -1.0, -1.4, -1.9, -1.2, -1.2]

p8_a = [
    -0.5, 0.6, -0.2, 0.9, 0.3, 1.0, 0.0, 0.7, 0.4, 0.8,
    0.2, 0.6, -0.3, 0.5, 0.0, 0.8, -0.5, 0.3, -0.2, 0.6,
    -0.3, -1.1, 0.1, -0.6, -1.3, -0.2, -1.0, -0.7, -1.5, -1.2,
    -1.8, -2.1, -1.5, -2.4, -1.9, -2.6, -1.4, -2.2, -1.7, -2.0,
    -1.5, -2.3, -1.2, -1.8, -0.9, -1.3, -0.5, -0.1, -1.2, 0.2,
    -0.3, 0.4, 0.0, 0.5, -0.4, 0.3, 0.6, -0.1, 0.4, 0.1,
    0.5, -0.2, 0.3, 0.6, 0.0, 0.7, 0.3, 0.8, 0.1, 0.5,
    -0.2, 0.3, -0.6, -0.3, -1.0, -0.5, -1.3, -0.8, -1.1, -1.5,
    -1.2, -1.6, -0.9, -1.4, -1.9, -1.3, -1.7, -2.1, -1.5, -1.8,
    -1.4, -1.9, -1.2, -1.6, -2.0, -1.7, -2.3, -1.9, -2.6, -2.2,
    -2.4, -2.0, -2.5, -2.2, -2.6, -2.4, -2.7, -2.5, -2.8, -2.6,
    -2.7, -2.9, -2.6, -3.0, -2.8, -3.1, -2.9, -3.3, -3.0, -3.2,
    -3.4, -3.1, -3.6, -3.3, -3.8, -3.5, -4.1, -3.6, -3.3, -3.0,
]
p8_b = [
    0.2, 0.9, 0.5, 0.6, 0.8, 0.4, 0.6, 0.9, 0.2, 0.5,
    0.7, -0.1, 0.4, 0.7, 0.3, -0.2, 0.4, -0.4, 0.5, -0.1,
    -0.6, -0.1, -0.4, -0.9, -0.6, -1.2, -0.8, -1.2, -1.0, -1.6,
    -2.2, -1.6, -2.0, -2.2, -2.4, -1.8, -2.1, -1.6, -2.4, -1.6,
    -2.0, -1.6, -2.0, -1.1, -1.6, -0.7, -1.0, 0.0, -0.6, 0.3,
    0.1, 0.2, 0.5, -0.2, 0.2, 0.5, 0.0, 0.5, -0.2, 0.6,
    0.2, 0.4, 0.1, 0.4, 0.7, 0.2, 0.6, 0.5, 0.9, 0.2,
    0.1, -0.4, -0.1, -0.8, -0.4, -1.1, -0.6, -1.2, -1.4, -1.0,
    -1.5, -1.1, -1.7, -1.2, -1.5, -1.8, -1.4, -1.6, -1.9, -1.4,
    -1.7, -1.5, -1.9, -1.3, -1.8, -2.1, -1.6, -2.4, -2.0, -2.4,
    -2.1, -2.6, -2.3, -2.6, -2.3, -2.7, -2.5, -2.7, -2.6, -2.9,
    -2.9, -2.7, -3.0, -2.8, -3.1, -2.9, -3.2, -3.0, -3.3, -3.1,
    -3.3, -3.6, -3.2, -3.7, -3.4, -3.9, -3.4, -3.9, -3.5, -3.2,
]
p8_c = [
    -0.6, 1.0, -0.4, 1.1, -0.5, 1.0, -0.4, 1.1, -0.5, 0.9,
    -0.6, 0.9, -0.7, 0.8, -0.8, 0.8, -1.0, 0.7, -1.2, 0.6,
    -1.3, 0.5, -1.4, 0.3, -1.6, 0.0, -1.8, -0.4, -2.3, -0.9,
    -2.6, -1.2, -2.8, -1.1, -2.9, -1.3, -2.7, -1.0, -2.5, -1.1,
    -2.3, -0.9, -2.1, -0.6, -1.8, 0.0, -1.2, 0.4, -0.8, 0.6,
    -0.6, 0.7, -0.5, 0.8, -0.6, 0.7, -0.5, 0.8, -0.4, 0.8,
    -0.4, 0.9, -0.3, 0.9, -0.4, 1.0, -0.5, 1.0, -0.7, 0.6,
    -1.0, 0.4, -1.3, 0.0, -1.5, -0.3, -1.7, -0.5, -2.0, -0.7,
    -2.1, -0.8, -2.2, -0.9, -2.3, -0.8, -2.4, -1.0, -2.3, -1.0,
    -2.4, -1.1, -2.6, -1.2, -2.8, -1.4, -3.0, -1.6, -3.2, -1.8,
    -3.1, -1.9, -3.2, -2.0, -3.3, -2.1, -3.2, -2.2, -3.4, -2.3,
    -3.4, -2.4, -3.5, -2.5, -3.6, -2.5, -3.8, -2.7, -3.9, -2.8,
    -4.0, -2.9, -4.2, -2.9, -4.3, -3.0, -4.4, -3.1, -4.2, -2.9,
]
p8_out_dates = ["2006-12-20", "2007-03-20", "2007-08-05", "2007-08-20", "2007-11-05",
                "2007-11-09", "2008-01-01", "2008-04-25", "2008-04-29", "2008-07-28",
                "2008-10-05", "2008-10-20", "2009-04-25", "2009-05-10", "2009-05-16"]
p8_out_values = [1.0, -1.2, -3.0, -0.7, -2.0, -2.3, -1.3, 0.3, 0.4, -2.8,
                 -1.4, -3.3, -4.7, -4.5, -4.3]

x_range = ["2006-12-01", "2009-06-01"]
x_tick_vals = ["2007-01-01", "2007-07-01", "2008-01-01", "2008-07-01", "2009-01-01"]
x_tick_text = ["2007/01", "2007/07", "2008/01", "2008/07", "2009/01"]
y_tick_vals = [-5, 0, 5]

# ---------------- layout geometry (window pixels) ----------------
WIN_W, WIN_H = 1191, 998
OFF = 8                      # default <body> margin of the html page
FW, FH = WIN_W - OFF, WIN_H - 2 * OFF
col_px = [(55, 567), (672, 1182)]
row_top_px = [44, 298, 552, 807]
plot_h = 145


def fx(px):
    return (px - OFF) / FW


def fy(py):
    return 1 - (py - OFF) / FH


panel_a = [p1_a, p2_a, p3_a, p4_a, p5_a, p6_a, p7_a, p8_a]
panel_b = [p1_b, p2_b, p3_b, p4_b, p5_b, p6_b, p7_b, p8_b]
panel_c = [p1_c, p2_c, p3_c, p4_c, p5_c, p6_c, p7_c, p8_c]
panel_out_dates = [p1_out_dates, p2_out_dates, p3_out_dates, p4_out_dates,
                   p5_out_dates, p6_out_dates, p7_out_dates, p8_out_dates]
panel_out_values = [p1_out_values, p2_out_values, p3_out_values, p4_out_values,
                    p5_out_values, p6_out_values, p7_out_values, p8_out_values]

dates_a = pd.date_range(week_start, periods=n_weeks, freq="7D")
dates_b = dates_a + pd.Timedelta(days=3)
dates_c = dates_a + pd.Timedelta(days=5)

fig = go.Figure()
annotations = []
shapes = []
marker = dict(color="#000000", size=9, line=dict(width=0))
tick_font = "Liberation Sans, Arial, sans-serif"

for k in range(8):
    col = k // 4
    row = k % 4
    for name, lst in (("a", panel_a[k]), ("b", panel_b[k]), ("c", panel_c[k])):
        assert len(lst) == n_weeks, (k, name, len(lst))
    assert len(panel_out_dates[k]) == len(panel_out_values[k]), k
    ax = "" if k == 0 else str(k + 1)
    xa, ya = "x" + ax, "y" + ax

    for xs, ys in ((dates_c, panel_c[k]), (dates_a, panel_a[k]), (dates_b, panel_b[k]),
                   (pd.to_datetime(panel_out_dates[k]), panel_out_values[k])):
        fig.add_trace(go.Scatter(x=xs, y=ys, mode="markers", marker=marker,
                                 xaxis=xa, yaxis=ya, showlegend=False, hoverinfo="skip"))

    left, right = col_px[col]
    top = row_top_px[row]
    bottom = top + plot_h

    fig.layout["xaxis" + ax] = dict(
        domain=[fx(left), fx(right)], anchor=ya, type="date", range=x_range,
        tickmode="array", tickvals=x_tick_vals, ticktext=x_tick_text,
        ticks="outside", ticklen=12, tickwidth=1, tickcolor="#222222",
        showgrid=False, zeroline=False,
        showline=True, linecolor="#222222", linewidth=1,
        minor=dict(dtick="M1", tick0="2006-12-01", ticks="outside", ticklen=6,
                   tickwidth=1, tickcolor="#222222", showgrid=False),
        tickfont=dict(family=tick_font, size=17, color="#222222"),
        fixedrange=True,
    )
    fig.layout["yaxis" + ax] = dict(
        domain=[fy(bottom), fy(top)], anchor=xa, range=[-5, 5],
        tickmode="array", tickvals=y_tick_vals,
        ticks="outside", ticklen=10, tickwidth=1, tickcolor="#222222",
        showgrid=True, gridcolor="#222222", gridwidth=1,
        zeroline=False,
        showline=True, linecolor="#999999", linewidth=1, mirror=True,
        minor=dict(dtick=1, tick0=0, showgrid=True, gridcolor="#222222", gridwidth=1, ticks=""),
        tickfont=dict(family=tick_font, size=19, color="#222222"),
        fixedrange=True,
    )
    shapes.append(dict(type="line", xref=xa + " domain", yref=ya,
                       x0=0, x1=1, y0=5, y1=5, line=dict(color="#999999", width=1)))

    title_py = top - 27
    annotations.append(dict(text="(cm)", xref="paper", yref="paper",
                            x=fx(left - 27), y=fy(title_py), xanchor="center", yanchor="middle",
                            showarrow=False,
                            font=dict(family=tick_font, size=17, color="#222222")))
    annotations.append(dict(text=titles[k], xref="paper", yref="paper",
                            x=fx(left + 28), y=fy(title_py), xanchor="left", yanchor="middle",
                            showarrow=False,
                            font=dict(family="Noto Sans CJK JP, sans-serif", size=23,
                                      color="#111111")))

fig.update_layout(
    width=FW, height=FH,
    margin=dict(l=0, r=0, t=0, b=0),
    paper_bgcolor="white", plot_bgcolor="white",
    annotations=annotations, shapes=shapes,
    showlegend=False,
)

fig.write_html("out.html")
